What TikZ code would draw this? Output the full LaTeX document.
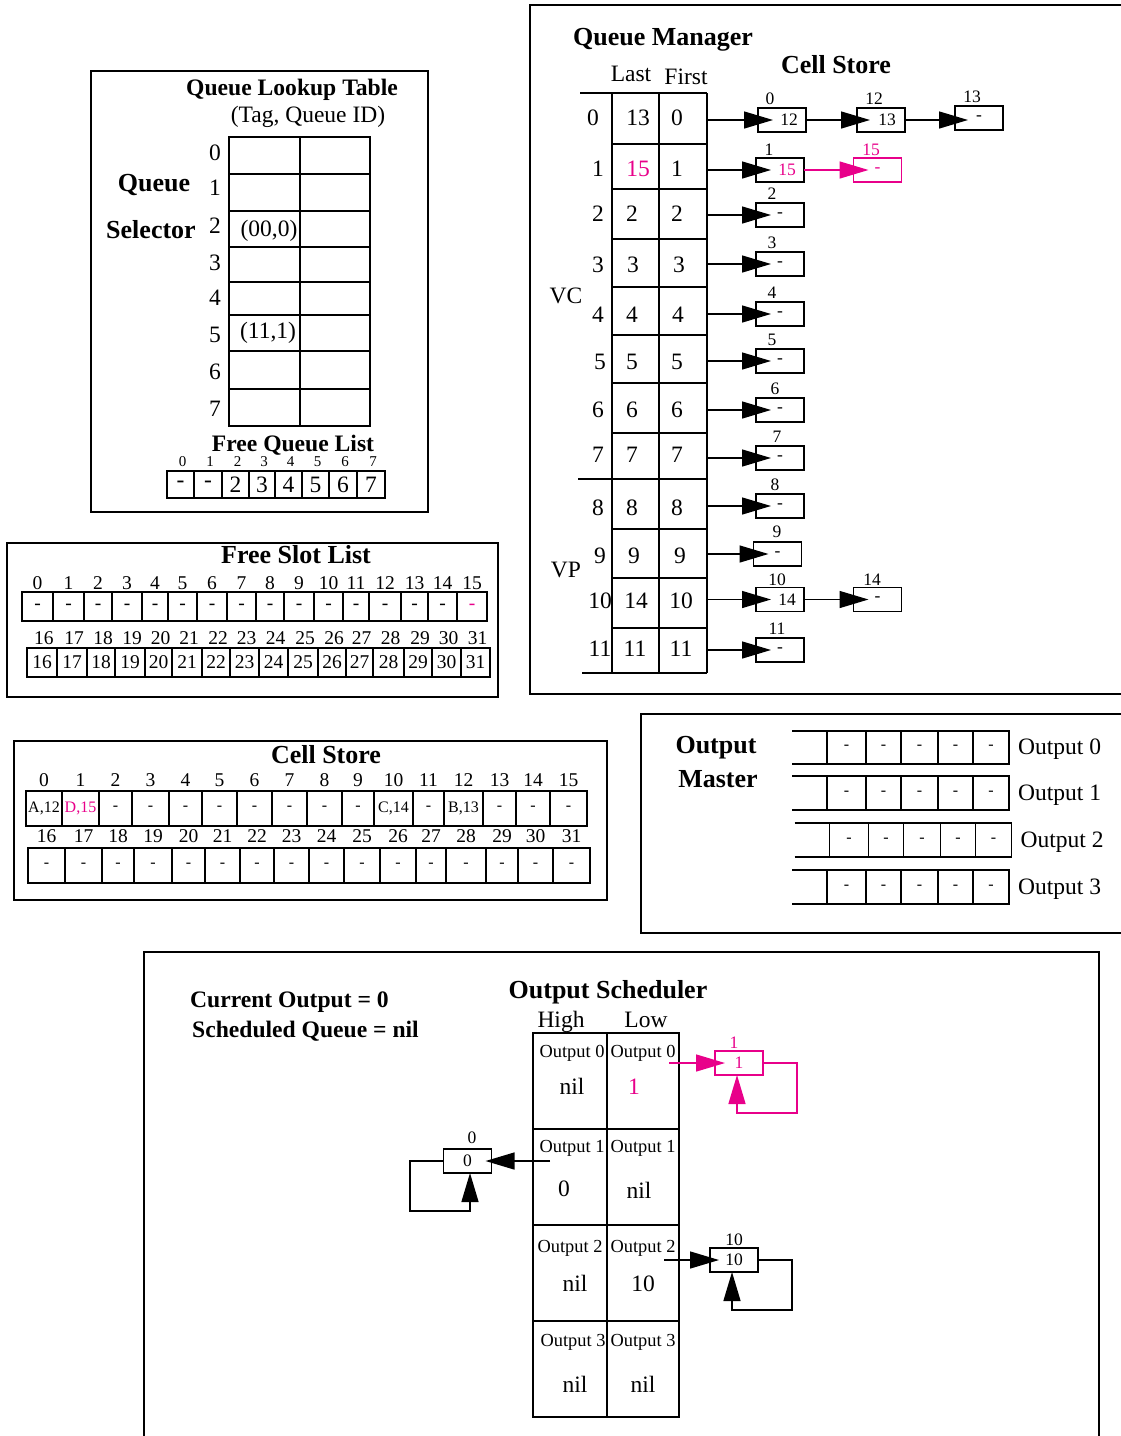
\documentclass[tikz,border=0pt]{standalone}
\usepackage{fontspec}
\setmainfont{Liberation Serif}
\usetikzlibrary{arrows.meta,calc}
\definecolor{mag}{RGB}{232,0,138}
\begin{document}
\begin{tikzpicture}[x=1pt,y=-1pt,
  lw/.style={line width=1.4pt},
  frame/.style={draw,line width=1.3pt},
  ttl/.style={font=\bfseries\fontsize{26}{30}\selectfont,inner sep=0pt},
  ttlb/.style={font=\bfseries\fontsize{23.6}{28}\selectfont,inner sep=0pt},
  txt/.style={font=\fontsize{23.5}{28}\selectfont,inner sep=0pt},
  lab/.style={font=\fontsize{19.5}{22}\selectfont,inner sep=0pt},
  sm/.style={font=\fontsize{18.4}{22}\selectfont,inner sep=0pt},
  xs/.style={font=\fontsize{15}{17}\selectfont,inner sep=0pt},
  nb/.style={font=\fontsize{17.5}{20}\selectfont,inner sep=0pt},
  cs/.style={font=\fontsize{16}{18}\selectfont,inner sep=0pt},
  cell/.style={draw,line width=1.4pt,inner sep=0pt,outer sep=0pt},
  lbox/.style={draw,line width=1.4pt,minimum width=48pt,minimum height=24pt,inner sep=0pt,outer sep=0pt,nb},
  big/.style={line width=1.4pt,-{Triangle[length=29pt,width=17pt]}},
]
\useasboundingbox (0,0) rectangle (1121,1436);

%% ---------------- Queue Lookup Table ----------------
\draw[frame] (91,71) rectangle (428,512);
\node[ttlb] (qlt) at (292,90) {Queue Lookup Table};
\node[txt] (tqid) at (308,117) {(Tag, Queue ID)};
\draw[lw] (229,137) rectangle (370,426) (300,137) -- (300,426);
\foreach \y in {174,211,247,282,315,351,389} \draw[lw] (229,\y) -- (370,\y);
\foreach \i/\y in {0/153,1/188,2/226,3/263,4/298,5/335,6/372,7/409}
  \node[txt] (qsi\i) at (215,\y) {\i};
\node[txt] (e2) at (269,231) {(00,0)};
\node[txt] (e5) at (268,333) {(11,1)};
\node[ttl] (qsq) at (154,185) {Queue};
\node[ttl] (qss) at (151,230) {Selector};
\node[ttlb] (fql) at (293,445) {Free Queue List};
\foreach \a/\b/\tx [count=\i from 0] in {167/194/-,194/222/-,222/249/2,249/275/3,275/302/4,302/329/5,329/357/6,357/385/7}{
  \pgfmathsetmacro\ww{\b-\a}\pgfmathsetmacro\cc{(\a+\b)/2}
  \node[cell,minimum width=\ww pt,minimum height=27pt,txt] (fq\i) at (\cc,484.5) {\tx};
  \node[xs] (fqlab\i) at (\cc+2,462) {\i};
}

%% ---------------- Free Slot List ----------------
\draw[frame] (7,543) rectangle (498,697);
\node[ttl] (fsl) at (296,555) {Free Slot List};
\foreach \a/\b/\tx [count=\i from 0] in {22/53/-,53/84/-,84/112/-,112/142/-,142/168/-,168/197/-,197/227/-,227/256/-,256/284/-,284/314/-,314/343/-,343/369/-,369/401/-,401/428/-,428/457/-,457/487/{\textcolor{mag}{-}}}{
  \pgfmathsetmacro\ww{\b-\a}\pgfmathsetmacro\cc{(\a+\b)/2}
  \node[cell,minimum width=\ww pt,minimum height=29pt,lab] (fsa\i) at (\cc,606.5) {\tx};
  \node[lab] (fsal\i) at (\cc,583) {\i};
}
\foreach \a/\b [count=\i from 16] in {27/57,57/87,87/115,115/145,145/172,172/202,202/230,230/259,259/288,288/318,318/346,346/373,373/404,404/432,432/461,461/490}{
  \pgfmathsetmacro\ww{\b-\a}\pgfmathsetmacro\cc{(\a+\b)/2}
  \node[cell,minimum width=\ww pt,minimum height=29pt,lab] (fsb\i) at (\cc,662.5) {\i};
  \node[lab] (fsbl\i) at (\cc+2,638) {\i};
}

%% ---------------- Cell Store (left) ----------------
\draw[frame] (14,741) rectangle (607,900);
\node[ttl] (csb) at (326,755) {Cell Store};
\foreach \a/\b/\tx [count=\i from 0] in {26/62/{A,12},62/99/{\textcolor{mag}{D,15}},99/132/-,132/169/-,169/202/-,202/237/-,237/272/-,272/307/-,307/342/-,342/374/-,374/413/{C,14},413/444/-,444/483/{B,13},483/516/-,516/550/-,550/587/-}{
  \pgfmathsetmacro\ww{\b-\a}\pgfmathsetmacro\cc{(\a+\b)/2}
  \node[cell,minimum width=\ww pt,minimum height=35pt,cs] (csa\i) at (\cc,808.5) {\tx};
  \node[lab] (csal\i) at (\cc,780) {\i};
}
\foreach \a/\b [count=\i from 16] in {28/65,65/102,102/134,134/172,172/205,205/240,240/274,274/309,309/344,344/380,380/416,416/446,446/486,486/518,518/553,553/590}{
  \pgfmathsetmacro\ww{\b-\a}\pgfmathsetmacro\cc{(\a+\b)/2}
  \node[cell,minimum width=\ww pt,minimum height=35pt,cs] (csb\i) at (\cc,865.5) {-};
  \node[lab] (csbl\i) at (\cc,836) {\i};
}

%% ---------------- Queue Manager ----------------
\draw[frame] (530,5) rectangle (1135,694);
\node[ttl] (qm) at (663,40) {Queue Manager};
\node[ttl] (qmcs) at (836,65) {Cell Store};
\node[txt] (hlast) at (631,74) {Last};
\node[txt] (hfirst) at (686,77) {First};
\draw[lw] (580,93) -- (707,93) (612,93) -- (612,673) (659,93) -- (659,673)
  (707,93) -- (707,673) (582,673) -- (707,673) (578,479) -- (707,479);
\foreach \y in {144,189,239,287,335,383,433,529,578,628} \draw[lw] (612,\y) -- (707,\y);
\foreach \vi/\vy/\vix/\vl/\vlx/\vf/\vfx in {0/118/593/13/638/0/677,1/169/598/{\textcolor{mag}{15}}/638/1/677,2/214/598/2/632/2/677,3/265/598/3/633/3/679,4/315/598/4/632/4/678,5/362/600/5/632/5/677,6/410/598/6/632/6/677,7/455/598/7/632/7/677,8/508/598/8/632/8/677,9/556/600/9/634/9/680,10/601/600/14/636/10/681,11/649/600/11/635/11/681}{
  \node[txt] (qmi\vi) at (\vix,\vy) {\vi};
  \node[txt] (qml\vi) at (\vlx,\vy) {\vl};
  \node[txt] (qmf\vi) at (\vfx,\vy) {\vf};
}
\node[txt] (vc) at (566,296) {VC};
\node[txt] (vp) at (566,570) {VP};
\coordinate (qe) at (707,0);

\node[lbox] (b0) at (782,120) {\hspace*{14pt}12};
\node[nb] (b0l) at (770,99) {0};
\node[lbox] (c12) at (881,120) {\hspace*{12pt}13};
\node[nb] (c12l) at (874,99) {12};
\node[lbox] (c13) at (979,118) {-};
\node[nb] (c13l) at (972,97) {13};
\node[lbox] (b1) at (780,170) {\hspace*{14pt}\textcolor{mag}{15}};
\node[nb] (b1l) at (769,150) {1};
\node[lbox,draw=mag,text=mag] (c15) at (877.5,170) {-};
\node[nb,text=mag] (c15l) at (871,150) {15};
\foreach \i/\y/\lx in {2/215/772,3/264/772,4/314/772,5/361/772,6/410/775,7/458/777,8/506/775,11/650/777}{
  \node[lbox] (b\i) at (780,\y) {-};
  \node[nb] (b\i l) at (\lx,\y-21) {\i};
}
\node[lbox] (b9) at (777.5,554) {-};
\node[nb] (b9l) at (777,532) {9};
\node[lbox] (b10) at (780,599.5) {\hspace*{14pt}14};
\node[nb] (b10l) at (777,580) {10};
\node[lbox] (c14) at (877.5,599.5) {-};
\node[nb] (c14l) at (872,580) {14};

\foreach \i in {0,1,...,11} \draw[big] (b\i.west -| qe) -- ([xshift=15pt]b\i.west);
\draw[big] (b0.east) -- ([xshift=13pt]c12.west);
\draw[big] (c12.east) -- ($(c12.east -| c13.west)+(13,0)$);
\draw[big,mag] (b1.east) -- ([xshift=15pt]c15.west);
\draw[big] (b10.east) -- ([xshift=15pt]c14.west);

%% ---------------- Output Master ----------------
\draw[frame] (641,714) rectangle (1135,933);
\node[ttl] (om1) at (716,748) {Output};
\node[ttl] (om2) at (718,779) {Master};
\foreach \r/\yt/\yb/\dx in {0/731/764/0,1/776/810/0,2/823/857/2.5,3/870/904/0}{
  \draw[lw] (792+\dx,\yt) -- (827+\dx,\yt) (792+\dx,\yb) -- (827+\dx,\yb);
  \foreach \a/\e [count=\k] in {827/866,866/901,901/938,938/973,973/1009}{
    \pgfmathsetmacro\ww{\e-\a}\pgfmathsetmacro\cc{(\a+\e)/2+\dx}
    \pgfmathsetmacro\hh{\yb-\yt}\pgfmathsetmacro\ym{(\yt+\yb)/2}
    \node[cell,minimum width=\ww pt,minimum height=\hh pt,cs] (om\r-\k) at (\cc,\ym) {-};
  }
  \node[txt,anchor=west] (oml\r) at (1018+\dx,{(\yt+\yb)/2+2}) {Output \r};
}

%% ---------------- Output Scheduler ----------------
\draw[frame] (144,1450) -- (144,952) -- (1099,952) -- (1099,1450);
\node[ttlb,anchor=west] (co) at (190,1002) {Current Output = 0};
\node[ttlb,anchor=west] (sq) at (192,1031) {Scheduled Queue = nil};
\node[ttl] (os) at (608,992) {Output Scheduler};
\node[txt] (hh) at (561,1022) {High};
\node[txt] (hlo) at (646,1020) {Low};
\draw[lw] (533,1033) rectangle (679,1417) (607,1033) -- (607,1417);
\foreach \y in {1129,1225,1321} \draw[lw] (533,\y) -- (679,\y);
\foreach \r/\y/\xh in {0/1053/572,1/1148/572,2/1248/570,3/1342/573}{
  \node[sm] (osh\r) at (\xh,\y) {Output \r};
  \node[sm] (osl\r) at (643,\y) {Output \r};
}
\node[txt] (v0h) at (572,1086) {nil};
\node[txt,text=mag] (v0l) at (634,1087) {1};
\node[txt] (v1h) at (564,1189) {0};
\node[txt] (v1l) at (639,1190) {nil};
\node[txt] (v2h) at (575,1283) {nil};
\node[txt] (v2l) at (643,1284) {10};
\node[txt] (v3h) at (575,1384) {nil};
\node[txt] (v3l) at (643,1384) {nil};

\node[lbox,draw=mag,text=mag] (s1) at (739,1063) {1};
\node[nb,text=mag] (s1l) at (734,1043) {1};
\coordinate (s1a) at (669,1063);
\draw[big,mag] (s1a) -- ([xshift=10pt]s1.west);
\draw[big,mag] (s1.east) -| (797,1113) -| ([xshift=-2pt]s1.south);

\node[lbox] (s0) at (467.5,1161) {0};
\node[nb] (s0l) at (472,1138) {0};
\coordinate (s0a) at (550,1161);
\draw[big] (s0a) -- ([xshift=-6pt]s0.east);
\draw[big] (s0.west) -| (410,1211) -| ([xshift=2.5pt]s0.south);

\node[lbox] (s10) at (734,1260) {10};
\node[nb] (s10l) at (734,1240) {10};
\coordinate (s10a) at (664,1260);
\draw[big] (s10a) -- ([xshift=9pt]s10.west);
\draw[big] (s10.east) -| (792,1310) -| ([xshift=-2pt]s10.south);
\end{tikzpicture}
\end{document}
